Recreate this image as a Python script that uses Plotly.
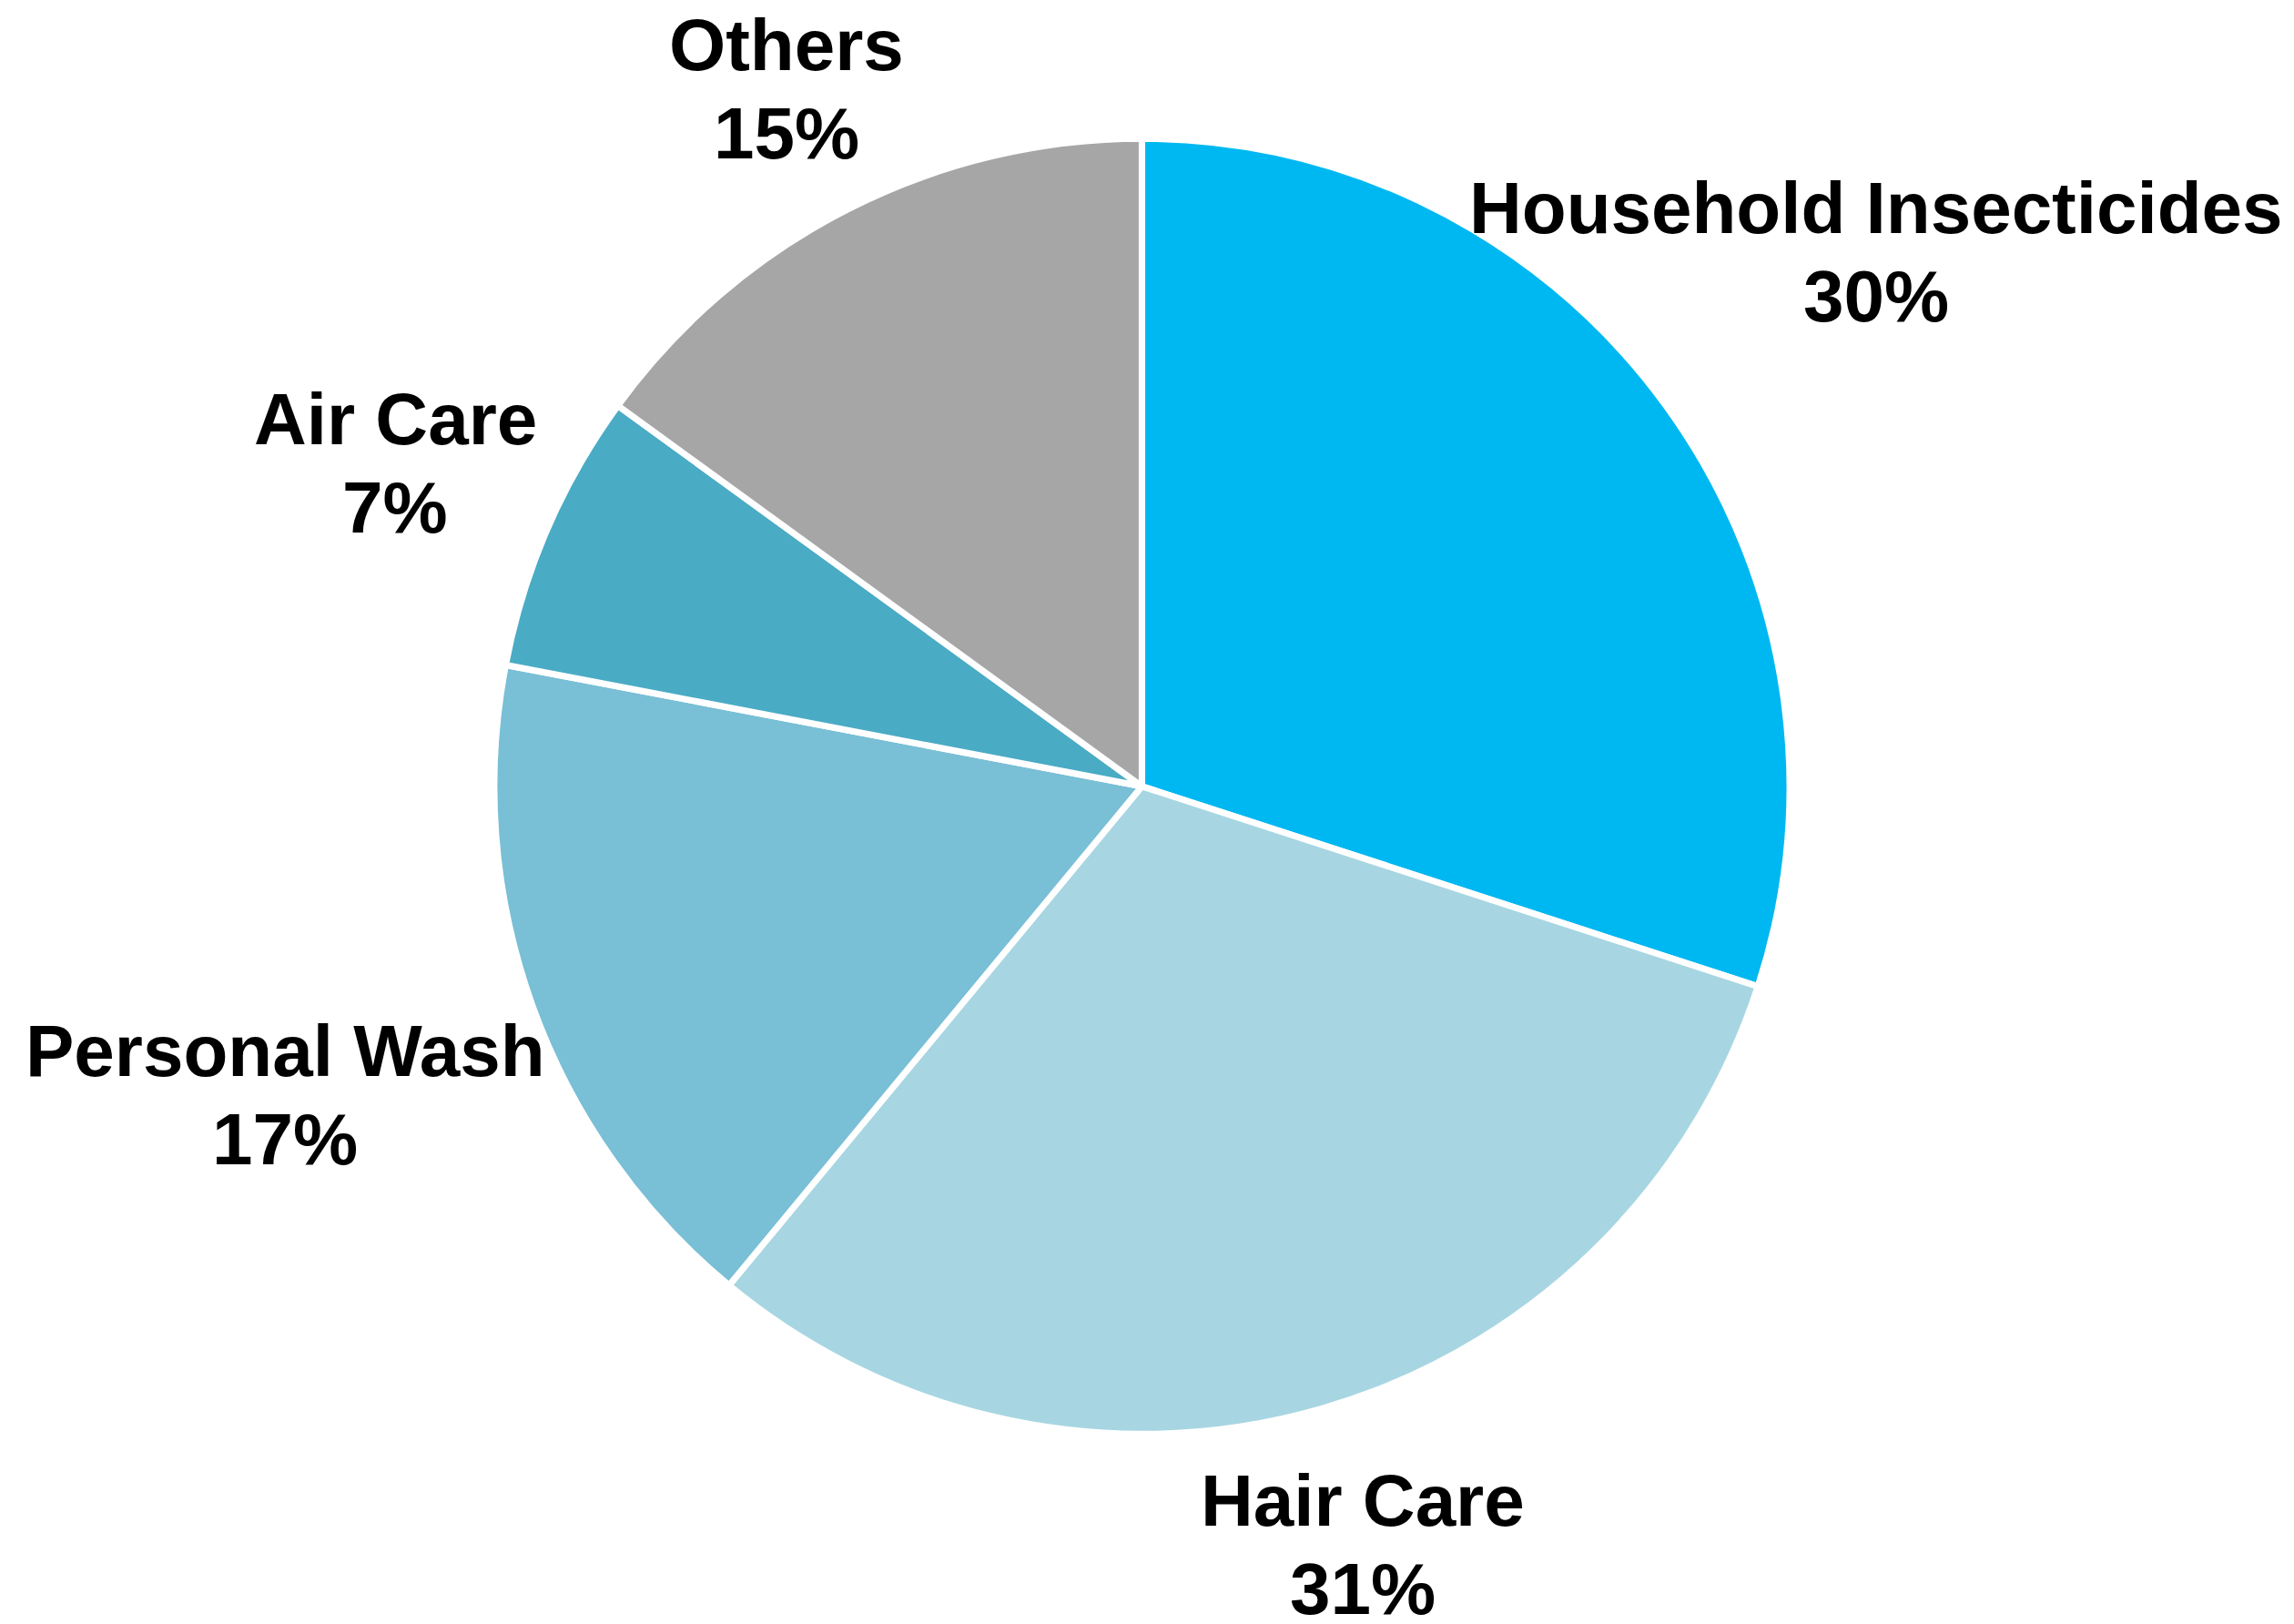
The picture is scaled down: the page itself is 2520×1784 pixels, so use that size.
import math
import plotly.graph_objects as go

# Segment shares (%)
categories = ["Household Insecticides", "Hair Care", "Personal Wash", "Air Care", "Others"]
shares = [30, 31, 17, 7, 15]
colors = ["#00B8F1", "#A7D6E2", "#79BFD5", "#4AABC5", "#A6A6A6"]

# Radial distance of each label block, in pie radii
label_dist = [1.409, 1.226, 1.413, 1.262, 1.214]

W, H = 2520, 1784
CX, CY, R = 1254.4, 863.8, 708.0      # pie centre and radius in pixels
LINE_W = 7
FONT = dict(family="Liberation Sans, Arial, Helvetica, sans-serif", size=80, color="black", weight="bold")
LINE_GAP = 97                          # baseline-to-baseline spacing of the two label lines

half = R + LINE_W / 2
fig = go.Figure(
    go.Pie(
        labels=categories,
        values=shares,
        sort=False,
        direction="clockwise",
        rotation=0,
        marker=dict(colors=colors, line=dict(color="white", width=LINE_W)),
        textinfo="none",
        hoverinfo="label+percent",
        domain=dict(
            x=[(CX - half) / W, (CX + half) / W],
            y=[(H - CY - half) / H, (H - CY + half) / H],
        ),
        showlegend=False,
    )
)

# Labels sit on the bisector of each slice
total = sum(shares)
cum = 0.0
annotations = []
for name, v, k in zip(categories, shares, label_dist):
    mid = (cum + v / 2) / total * 2 * math.pi
    cum += v
    bx = CX + k * R * math.sin(mid)
    by = CY - k * R * math.cos(mid)
    for text, dy in ((name, -LINE_GAP / 2), (f"{v}%", LINE_GAP / 2)):
        annotations.append(
            dict(
                x=bx / W,
                y=1 - (by + dy) / H,
                xref="paper",
                yref="paper",
                text=text,
                showarrow=False,
                xanchor="center",
                yanchor="middle",
                font=FONT,
            )
        )

fig.update_layout(
    width=W,
    height=H,
    margin=dict(l=0, r=0, t=0, b=0),
    paper_bgcolor="white",
    plot_bgcolor="white",
    annotations=annotations,
)

fig.write_html("out.html")
